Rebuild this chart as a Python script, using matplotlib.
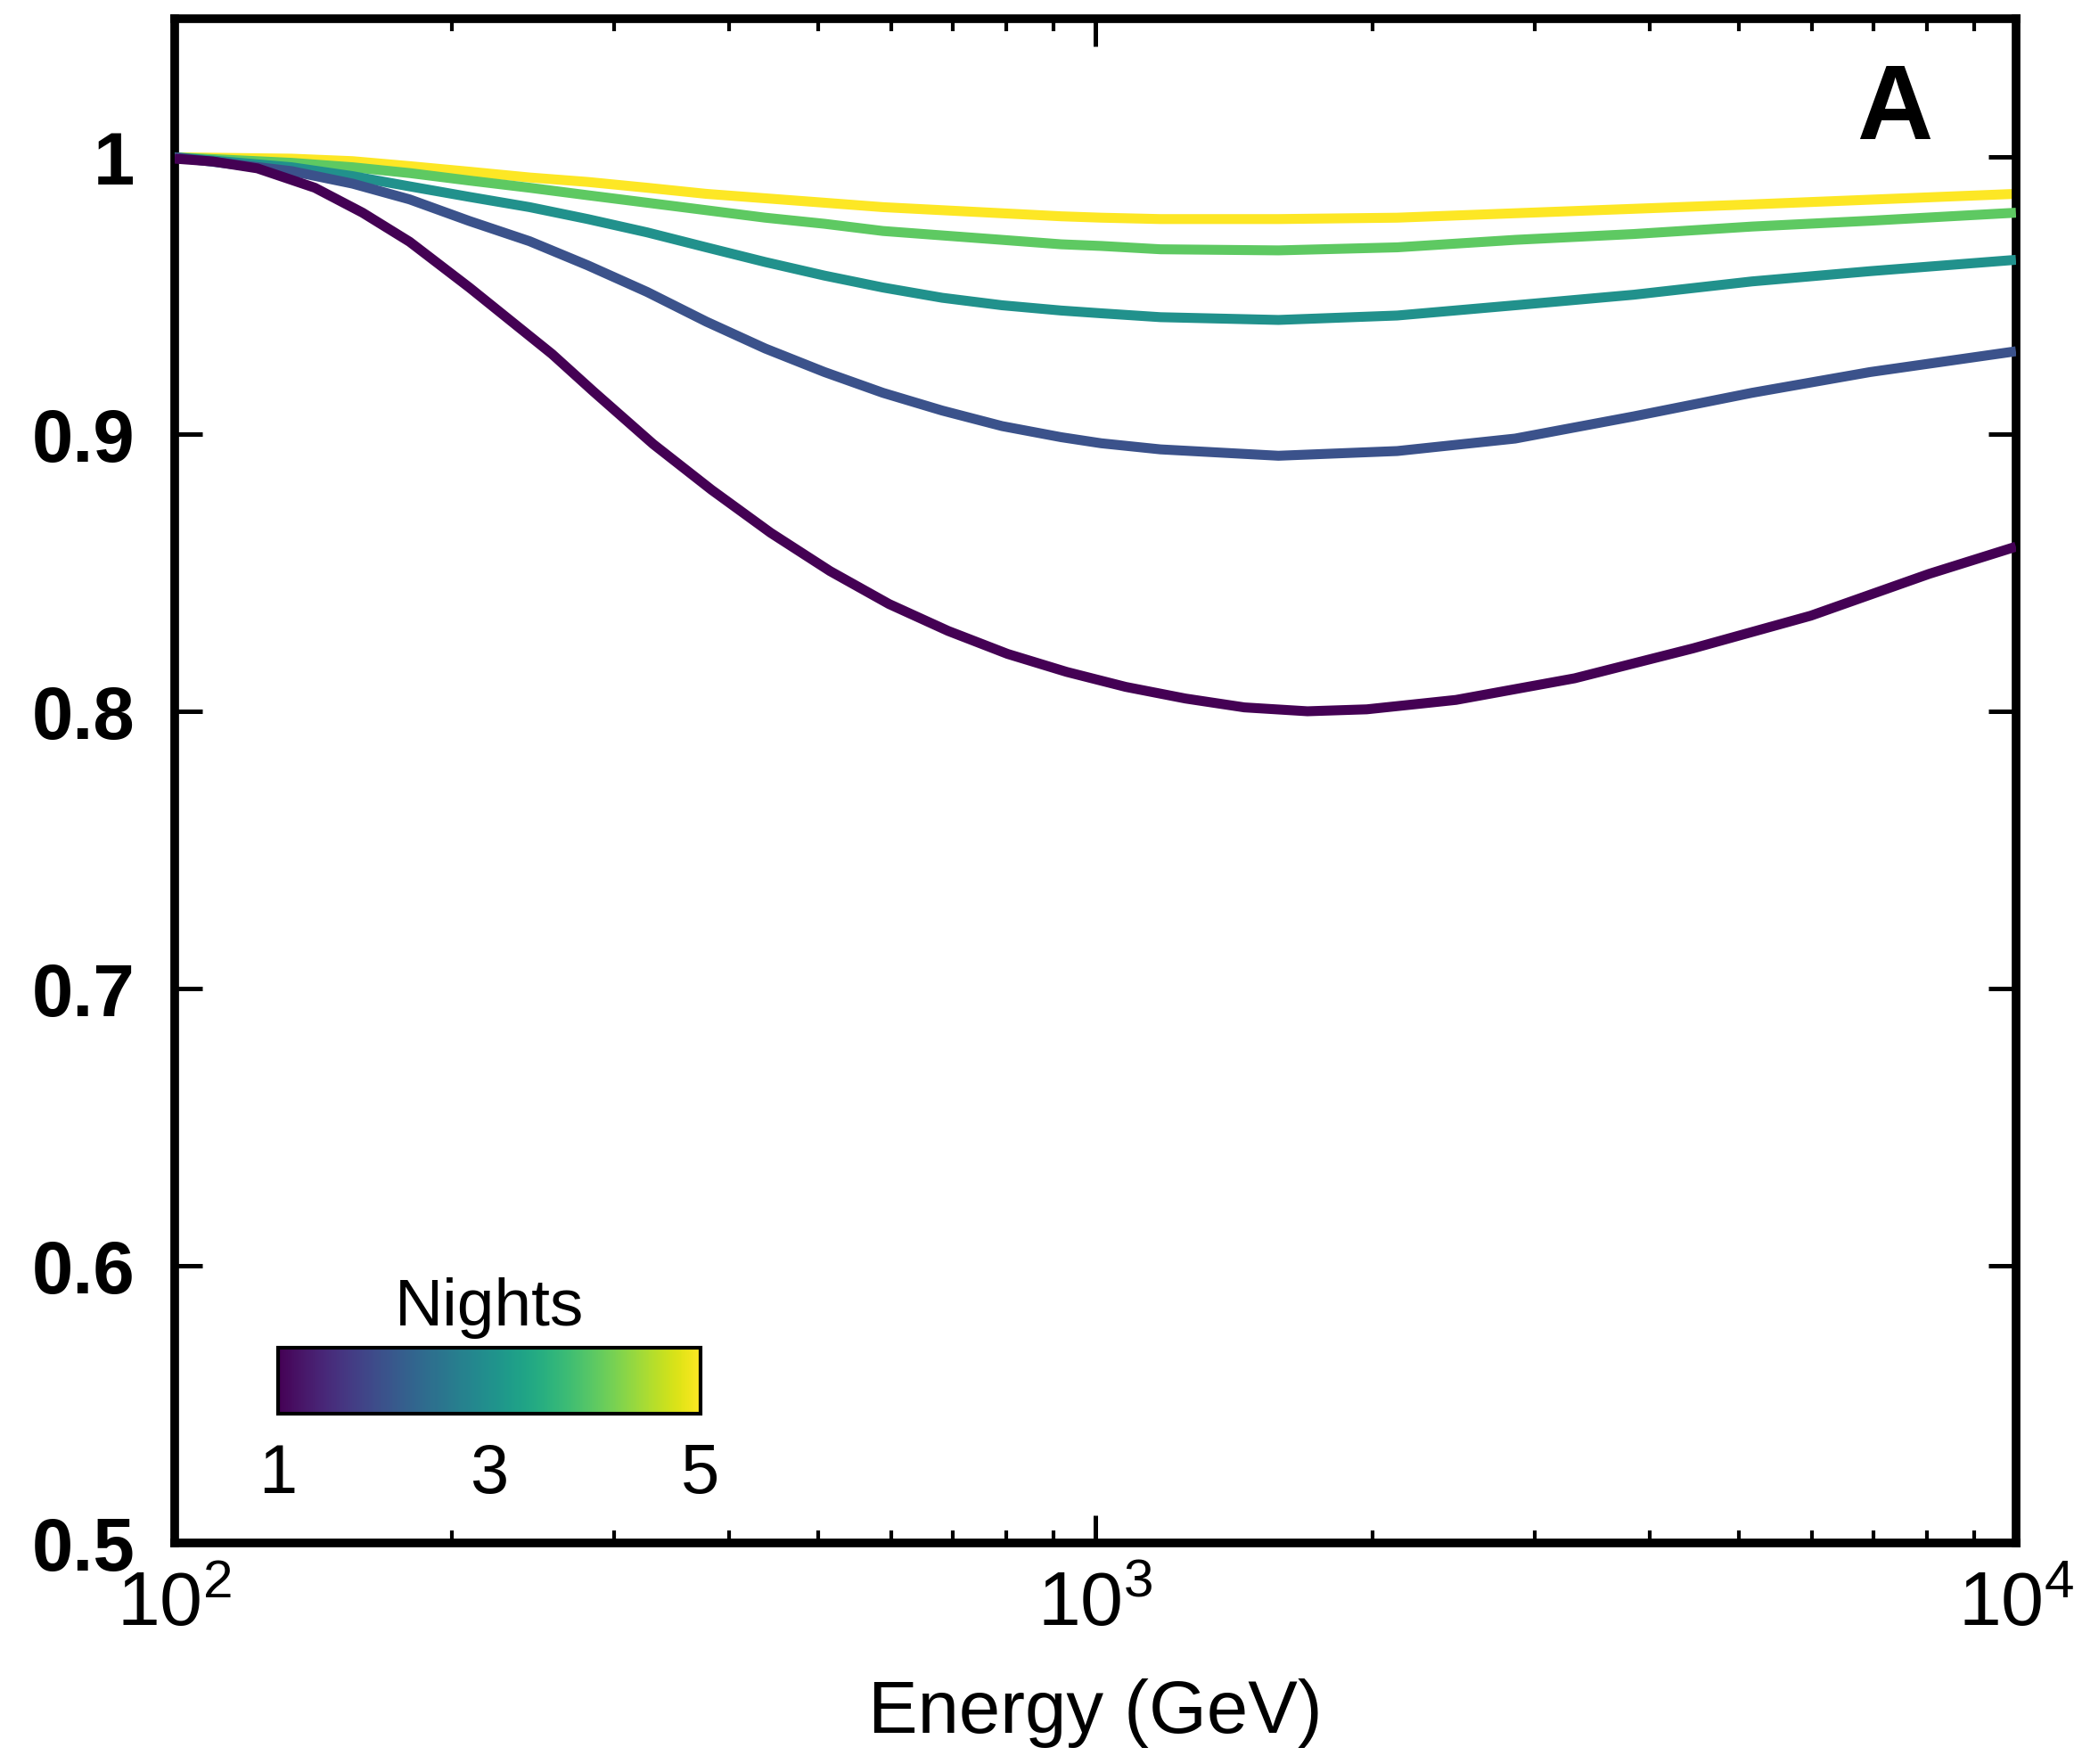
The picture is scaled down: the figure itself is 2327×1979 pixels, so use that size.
import numpy as np
import matplotlib
matplotlib.use("Agg")
import matplotlib.pyplot as plt
from matplotlib import colors
from matplotlib.colorbar import ColorbarBase
from matplotlib.ticker import LogLocator, NullFormatter, FixedLocator

plt.rcParams['font.family'] = ['Liberation Sans', 'DejaVu Sans']
plt.rcParams['mathtext.fontset'] = 'custom'
plt.rcParams['mathtext.rm'] = 'Liberation Sans'
plt.rcParams['mathtext.it'] = 'Liberation Sans:italic'
plt.rcParams['mathtext.bf'] = 'Liberation Sans:bold'

# ---- data ----
energy_1 = [100, 110, 123, 142, 160, 180, 209, 243, 257, 285, 331, 383, 444, 515, 597,
            692, 803, 931, 1079, 1253, 1452, 1700, 1972, 2465, 3317, 4459, 5988, 8052, 10000]
night1 = [0.9995, 0.9985, 0.996, 0.989, 0.980, 0.9695, 0.953, 0.9355, 0.929, 0.9155, 0.8965,
          0.880, 0.8645, 0.8507, 0.8388, 0.8291, 0.8208, 0.8143, 0.8089, 0.8047, 0.8015,
          0.8001, 0.8008, 0.8042, 0.812, 0.8228, 0.8346, 0.8497, 0.8595]

energy = [100, 134, 156, 180, 209, 243, 281, 326, 378, 438, 508, 588, 682, 792, 918,
          1015, 1177, 1581, 2128, 2858, 3844, 5167, 6945, 10000]
night2 = [1.000, 0.995, 0.9905, 0.9848, 0.977, 0.9697, 0.961, 0.9514, 0.9407, 0.931, 0.9225,
          0.915, 0.9086, 0.903, 0.899, 0.8968, 0.8946, 0.8923, 0.894, 0.8985, 0.9065,
          0.915, 0.9225, 0.930]
night3 = [1.000, 0.9964, 0.9932, 0.9895, 0.9857, 0.982, 0.9777, 0.9729, 0.9675, 0.9622,
          0.9573, 0.953, 0.9493, 0.9466, 0.9447, 0.9437, 0.9423, 0.9413, 0.9429, 0.9466,
          0.9504, 0.9552, 0.9589, 0.963]
night4 = [1.000, 0.998, 0.9964, 0.9943, 0.9916, 0.989, 0.9863, 0.9836, 0.9809, 0.9782,
          0.976, 0.9734, 0.9718, 0.9702, 0.9686, 0.968, 0.9668, 0.9664, 0.9675, 0.9702,
          0.9723, 0.975, 0.9771, 0.980]
night5 = [1.000, 0.9995, 0.9986, 0.9968, 0.9948, 0.9927, 0.9911, 0.989, 0.9868, 0.9852,
          0.9836, 0.982, 0.9809, 0.9798, 0.9787, 0.9782, 0.9777, 0.9777, 0.9782, 0.9798,
          0.9814, 0.983, 0.9847, 0.9868]

nights = [1, 2, 3, 4, 5]
series = [(energy_1, night1), (energy, night2), (energy, night3), (energy, night4), (energy, night5)]
yticks = [0.5, 0.6, 0.7, 0.8, 0.9, 1.0]
ytick_labels = ['0.5', '0.6', '0.7', '0.8', '0.9', '1']
xticks = [100, 1000, 10000]
xtick_labels = [r'$\mathregular{10^{2}}$', r'$\mathregular{10^{3}}$', r'$\mathregular{10^{4}}$']
cbar_ticks = [1, 3, 5]

# ---- figure ----
fig = plt.figure(figsize=(23.27, 19.79), dpi=100)
ax = fig.add_axes([0.0842, 0.1253, 0.972 - 0.0842, 0.9894 - 0.1253])

cmap = plt.get_cmap('viridis')
norm = colors.Normalize(vmin=1, vmax=5)
for n, (e, vals) in zip(nights, series):
    ax.plot(e, vals, color=cmap(norm(n)), lw=8, solid_joinstyle='round',
            solid_capstyle='butt', zorder=2 + (5 - n))

ax.set_xscale('log')
ax.set_xlim(100, 10000)
ax.set_ylim(0.5, 1.05)
ax.set_yticks(yticks)
ax.set_yticklabels(ytick_labels, fontsize=60, fontweight='bold')
ax.xaxis.set_major_locator(FixedLocator(xticks))
ax.set_xticklabels(xtick_labels, fontsize=62)
ax.xaxis.set_minor_locator(LogLocator(base=10, subs=np.arange(2, 10)))
ax.xaxis.set_minor_formatter(NullFormatter())
ax.tick_params(axis='both', which='major', direction='in', length=22, width=3.6,
               top=True, right=True, color='black')
ax.tick_params(axis='x', which='minor', direction='in', length=10, width=3,
               top=True, bottom=True)
ax.tick_params(axis='y', which='major', pad=32)
ax.tick_params(axis='x', which='major', pad=22)
for s in ax.spines.values():
    s.set_linewidth(7)

ax.set_xlabel('Energy (GeV)', fontsize=60, labelpad=30)
ax.text(0.934, 0.9386, 'A', transform=ax.transAxes, fontsize=85, fontweight='bold',
        ha='center', va='center')

# ---- colorbar ----
cax = fig.add_axes([0.134, 0.1986, 0.2037, 0.0374])
cb = ColorbarBase(cax, cmap=cmap, norm=norm, orientation='horizontal', ticks=cbar_ticks)
cb.outline.set_linewidth(3)
cax.tick_params(length=0, labelsize=56, pad=23)
cax.set_xticklabels([str(t) for t in cbar_ticks])
cax.set_title('Nights', fontsize=54, pad=18)

fig.savefig('out.png', dpi=100)
